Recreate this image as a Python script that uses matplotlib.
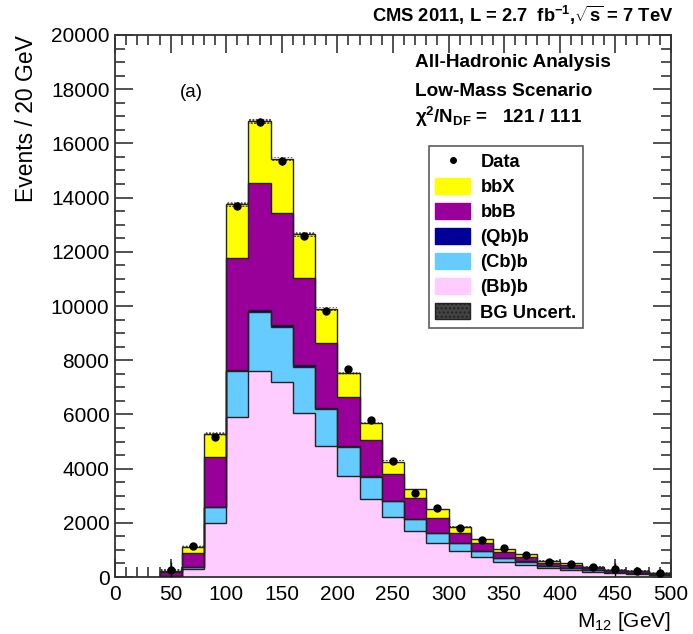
import numpy as np
import matplotlib
matplotlib.use("Agg")
import matplotlib.pyplot as plt
from matplotlib.patches import Patch
from matplotlib.lines import Line2D
from matplotlib.ticker import MultipleLocator

plt.rcParams['font.family'] = ['Liberation Sans', 'DejaVu Sans']
plt.rcParams['mathtext.fontset'] = 'custom'
plt.rcParams['mathtext.rm'] = 'Liberation Sans'
plt.rcParams['mathtext.bf'] = 'Liberation Sans:bold'
plt.rcParams['mathtext.it'] = 'Liberation Sans:italic'

# ---- data (M12 bins 40..500 GeV, 20 GeV wide) ----
bin_edges = list(range(40, 520, 20))
bb_b = [10, 285, 2000, 5890, 7600, 7210, 6040, 4830, 3740, 2890, 2200, 1700,
        1270, 970, 750, 540, 440, 320, 260, 200, 140, 120, 80]
cb_b = [10, 75, 570, 1710, 2190, 2030, 1720, 1360, 1070, 810, 600, 430,
        340, 270, 210, 170, 130, 90, 80, 55, 40, 35, 25]
qb_b = [10, 15, 30, 50, 60, 60, 50, 40, 30, 25, 20, 15,
        12, 10, 8, 6, 5, 4, 3, 3, 2, 2, 1]
bbB = [170, 500, 1820, 4130, 4680, 4140, 3210, 2420, 1790, 1325, 980, 755,
       568, 390, 302, 214, 175, 116, 97, 82, 58, 48, 34]
bbX = [20, 250, 860, 1970, 2300, 1970, 1620, 1230, 890, 650, 460, 340,
       310, 220, 120, 90, 90, 70, 70, 40, 30, 25, 20]
bg_unc = [60, 40, 60, 90, 100, 95, 85, 70, 60, 50, 45, 40,
          35, 30, 30, 25, 25, 20, 20, 20, 20, 15, 15]
data_y = [260, 1150, 5180, 13700, 16800, 15350, 12600, 9820, 7660, 5790, 4270, 3090,
          2530, 1800, 1370, 1060, 810, 570, 470, 360, 280, 230, 160]
data_err = [300, 60, 90, 130, 140, 130, 120, 110, 95, 80, 70, 60,
            55, 45, 40, 35, 30, 30, 30, 40, 250, 30, 30]

labels = ['bbX', 'bbB', '(Qb)b', '(Cb)b', '(Bb)b']
colors = ['#ffff00', '#990099', '#000099', '#66ccff', '#ffccff']

edges = np.array(bin_edges)
centers = 0.5 * (edges[:-1] + edges[1:])
layers = [np.array(bb_b), np.array(cb_b), np.array(qb_b), np.array(bbB), np.array(bbX)]
cums = np.cumsum(np.vstack(layers), axis=0)   # bottom -> top
stack_colors = ['#ffccff', '#66ccff', '#000099', '#990099', '#ffff00']

fig = plt.figure(figsize=(6.93, 6.34), dpi=100)
ax = fig.add_axes([0.166, 0.0899, 0.802, 0.8549])

# draw cumulative histograms from top to bottom (ROOT THStack style)
for i in range(len(layers) - 1, -1, -1):
    ax.stairs(cums[i], edges, baseline=0, fill=True, color=stack_colors[i], zorder=2)
    ax.stairs(cums[i], edges, baseline=0, fill=False, color='#222222', lw=1.0, zorder=3)

# background uncertainty band
tot = cums[-1]
unc = np.array(bg_unc)
ax.stairs(tot + unc, edges, baseline=tot - unc, fill=True, facecolor='none',
          edgecolor='#222222', hatch='.....', lw=0, zorder=4)

# data
ax.errorbar(centers, data_y, yerr=data_err, fmt='o', color='black', ms=5,
            elinewidth=1, capsize=0, zorder=5)

ax.set_xlim(0, 500)
ax.set_ylim(0, 20000)
ax.xaxis.set_major_locator(MultipleLocator(50))
ax.xaxis.set_minor_locator(MultipleLocator(10))
ax.yaxis.set_major_locator(MultipleLocator(2000))
ax.yaxis.set_minor_locator(MultipleLocator(500))
ax.tick_params(which='both', direction='in', top=True, right=True,
               width=1.2, color='#333333', labelsize=15)
ax.tick_params(which='major', length=13)
ax.tick_params(which='minor', length=7)
ax.tick_params(axis='x', pad=6)
ax.tick_params(axis='y', pad=4)
for s in ax.spines.values():
    s.set_linewidth(1.3)
    s.set_color('#333333')

ax.set_ylabel('Events / 20 GeV', fontsize=16.5, loc='top')
ax.yaxis.set_label_coords(-0.138, 1.0)
ax.set_xlabel('M$_{12}$ [GeV]', fontsize=15, loc='right')
ax.xaxis.set_label_coords(1.0, -0.060)

# texts
fig.text(0.972, 0.976, r'CMS 2011, L = 2.7  fb$^{\mathbf{-1}}$,$\sqrt{\mathbf{s}}$ = 7 TeV',
         ha='right', va='center', fontsize=13.2, fontweight='bold')
ax.text(0.539, 0.950, 'All-Hadronic Analysis', transform=ax.transAxes,
        fontsize=13.7, fontweight='bold', va='center')
ax.text(0.539, 0.895, 'Low-Mass Scenario', transform=ax.transAxes,
        fontsize=13.7, fontweight='bold', va='center')
ax.text(0.539, 0.849, 'χ$^{\\mathbf{2}}$/N$_{\\mathbf{DF}}$ =   121 / 111', transform=ax.transAxes,
        fontsize=13.5, fontweight='bold', va='center')
ax.text(0.116, 0.893, '(a)', transform=ax.transAxes, fontsize=13.5, va='center')

handles = [Line2D([], [], marker='o', color='black', ls='none', ms=4)]
for lab, col in zip(labels, colors):
    handles.append(Patch(facecolor=col, edgecolor=col))
handles.append(Patch(facecolor='#444444', edgecolor='#222222', hatch='....'))
leg_labels = ['Data'] + labels + ['BG Uncert.']
leg = ax.legend(handles, leg_labels, loc='upper left', bbox_to_anchor=(0.565, 0.795),
                frameon=True, fancybox=False, edgecolor='#333333',
                prop={'weight': 'bold', 'size': 13.2}, handlelength=1.9, handleheight=1.0,
                labelspacing=0.36, borderpad=0.35, handletextpad=0.55, borderaxespad=0)
leg.get_frame().set_linewidth(1.2)
leg.set_zorder(6)

fig.savefig('out.png', dpi=100)
